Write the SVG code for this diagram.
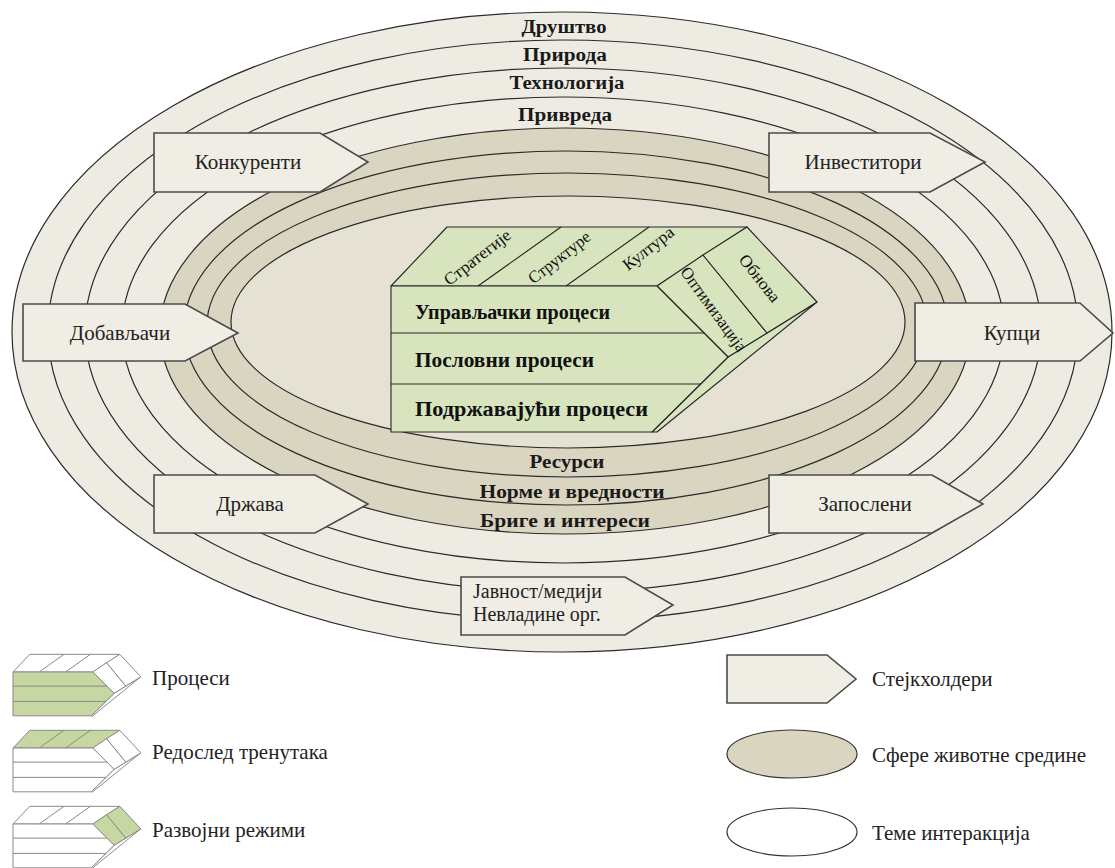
<svg xmlns="http://www.w3.org/2000/svg" xmlns:xlink="http://www.w3.org/1999/xlink" width="1115" height="868" viewBox="0 0 1115 868">
  <style>
    .ring { fill: #eeece2; stroke: #2b2b2b; stroke-width: 1.2; }
    .band { fill: #dad5c0; stroke: #2b2b2b; stroke-width: 1.2; }
    .core { fill: #e5e2d3; stroke: #2b2b2b; stroke-width: 1.2; }
    .ringlbl { font-family: "Liberation Serif", "Times New Roman", serif; font-weight: bold; font-size: 18px; fill: #1a1a1a; text-anchor: middle; }
    .stake { fill: #efede4; stroke: #4a4a4a; stroke-width: 1.6; }
    .stxt { font-family: "Liberation Serif", "Times New Roman", serif; font-size: 21px; fill: #222; }
    .stxt2 { font-family: "Liberation Serif", "Times New Roman", serif; font-size: 20px; fill: #222; }
    .mid { text-anchor: middle; }
    .cube { stroke: #262626; stroke-width: 1.1; stroke-linejoin: round; }
    .cubeline { fill: none; stroke: #262626; stroke-width: 1.1; }
    .ptxt { font-family: "Liberation Serif", "Times New Roman", serif; font-weight: bold; font-size: 20.5px; fill: #111; }
    .rtxt { font-family: "Liberation Serif", "Times New Roman", serif; font-size: 17px; fill: #111; text-anchor: middle; }
    .icon { stroke: #8a8a8a; stroke-width: 1; }
    .iconline { fill: none; stroke: #8a8a8a; stroke-width: 1; }
    .ltxt { font-family: "Liberation Serif", "Times New Roman", serif; font-size: 21px; fill: #222; }
  </style>
  <defs>
    <!-- process prism, origin at the front face's top-left corner -->
    <polygon id="cb-front" points="0,0 266,0 337,71 261,146 0,146" vector-effect="non-scaling-stroke"/>
    <polygon id="cb-top" points="0,0 56,-59 356,-59 266,0" vector-effect="non-scaling-stroke"/>
    <polygon id="cb-sideA" points="266,0 312,-31 376,47 337,71" vector-effect="non-scaling-stroke"/>
    <polygon id="cb-sideB" points="312,-31 356,-59 426,16 376,47" vector-effect="non-scaling-stroke"/>
    <polygon id="cb-lower" points="337,71 426,16 266,146 261,146" vector-effect="non-scaling-stroke"/>
    <path id="cb-lines" d="M0,47 H313 M0,98 H310 M87,0 L170,-59 M175,0 L258,-59" vector-effect="non-scaling-stroke"/>
  </defs>

  <!-- environment spheres and interaction themes -->
  <g id="spheres">
    <ellipse class="ring" cx="562" cy="332" rx="550" ry="320"/>
    <ellipse class="ring" cx="563" cy="330.5" rx="515" ry="290.5"/>
    <ellipse class="ring" cx="563" cy="330" rx="478" ry="262"/>
    <ellipse class="ring" cx="563" cy="330" rx="441" ry="233"/>
    <ellipse class="band" cx="565" cy="331" rx="405" ry="203"/>
    <ellipse class="band" cx="566" cy="328" rx="382" ry="177"/>
    <ellipse class="band" cx="567" cy="325" rx="360" ry="152"/>
    <ellipse class="core" cx="568" cy="322" rx="337" ry="126"/>
  </g>

  <g id="sphere-labels">
    <text class="ringlbl" x="564" y="33" textLength="85" lengthAdjust="spacingAndGlyphs">Друштво</text>
    <text class="ringlbl" x="565" y="61" textLength="84" lengthAdjust="spacingAndGlyphs">Природа</text>
    <text class="ringlbl" x="567" y="89" textLength="115" lengthAdjust="spacingAndGlyphs">Технологија</text>
    <text class="ringlbl" x="565" y="121" textLength="94" lengthAdjust="spacingAndGlyphs">Привреда</text>
    <text class="ringlbl" x="567" y="468" textLength="75" lengthAdjust="spacingAndGlyphs">Ресурси</text>
    <text class="ringlbl" x="572" y="498" textLength="185" lengthAdjust="spacingAndGlyphs">Норме и вредности</text>
    <text class="ringlbl" x="565" y="527" textLength="170" lengthAdjust="spacingAndGlyphs">Бриге и интереси</text>
  </g>

  <!-- central process model -->
  <g id="process-model" transform="translate(391,286)">
    <use href="#cb-lower" class="cube" fill="#d7e4bd"/>
    <use href="#cb-top" class="cube" fill="#d7e4bd"/>
    <use href="#cb-sideA" class="cube" fill="#d7e4bd"/>
    <use href="#cb-sideB" class="cube" fill="#d7e4bd"/>
    <use href="#cb-front" class="cube" fill="#d7e4bd"/>
    <use href="#cb-lines" class="cubeline"/>
    <text class="ptxt" x="24" y="33" textLength="195" lengthAdjust="spacingAndGlyphs">Управљачки процеси</text>
    <text class="ptxt" x="24" y="81" textLength="179" lengthAdjust="spacingAndGlyphs">Пословни процеси</text>
    <text class="ptxt" x="24" y="130" textLength="233" lengthAdjust="spacingAndGlyphs">Подржавајући процеси</text>
    <text class="rtxt" transform="translate(86,-29) rotate(-38)" y="6" textLength="80" lengthAdjust="spacingAndGlyphs">Стратегије</text>
    <text class="rtxt" transform="translate(168,-29) rotate(-38)" y="6" textLength="74" lengthAdjust="spacingAndGlyphs">Структуре</text>
    <text class="rtxt" transform="translate(257,-38) rotate(-38)" y="6" textLength="60" lengthAdjust="spacingAndGlyphs">Култура</text>
    <text class="rtxt" transform="translate(323,23) rotate(54)" y="6" textLength="100" lengthAdjust="spacingAndGlyphs">Оптимизација</text>
    <text class="rtxt" transform="translate(369,-8) rotate(52)" y="6" textLength="56" lengthAdjust="spacingAndGlyphs">Обнова</text>
  </g>

  <!-- stakeholders -->
  <g id="konkurenti">
    <polygon class="stake" points="154,133 320,133 368,162 320,192 154,192"/>
    <text class="stxt mid" x="248" y="169">Конкуренти</text>
  </g>
  <g id="investitori">
    <polygon class="stake" points="769,133 930,133 985,162 930,192 769,192"/>
    <text class="stxt mid" x="863" y="169">Инвеститори</text>
  </g>
  <g id="dobavljaci">
    <polygon class="stake" points="23,304 185,304 238,333 185,361 23,361"/>
    <text class="stxt mid" x="120" y="340">Добављачи</text>
  </g>
  <g id="kupci">
    <polygon class="stake" points="915,303 1080,303 1113,333 1080,361 915,361"/>
    <text class="stxt mid" x="1012" y="340">Купци</text>
  </g>
  <g id="drzava">
    <polygon class="stake" points="154,475 315,475 368,504 315,533 154,533"/>
    <text class="stxt mid" x="250" y="511">Држава</text>
  </g>
  <g id="zaposleni">
    <polygon class="stake" points="769,475 932,475 983,504 932,533 769,533"/>
    <text class="stxt mid" x="865" y="511">Запослени</text>
  </g>
  <g id="javnost">
    <polygon class="stake" points="461,577 625,577 673,605 625,635 461,635"/>
    <text class="stxt2" x="473" y="598">Јавност/медији</text>
    <text class="stxt2" x="473" y="621">Невладине орг.</text>
  </g>

  <!-- legend -->
  <g id="legend-procesi">
    <g transform="translate(13,672) scale(0.3)">
      <use href="#cb-lower" class="icon" fill="#ffffff"/>
      <use href="#cb-top" class="icon" fill="#ffffff"/>
      <use href="#cb-sideA" class="icon" fill="#ffffff"/>
      <use href="#cb-sideB" class="icon" fill="#ffffff"/>
      <use href="#cb-front" class="icon" fill="#c6d7a1"/>
      <use href="#cb-lines" class="iconline"/>
    </g>
    <text class="ltxt" x="152" y="685">Процеси</text>
  </g>
  <g id="legend-redosled">
    <g transform="translate(13,748) scale(0.3)">
      <use href="#cb-lower" class="icon" fill="#ffffff"/>
      <use href="#cb-top" class="icon" fill="#c6d7a1"/>
      <use href="#cb-sideA" class="icon" fill="#ffffff"/>
      <use href="#cb-sideB" class="icon" fill="#ffffff"/>
      <use href="#cb-front" class="icon" fill="#ffffff"/>
      <use href="#cb-lines" class="iconline"/>
    </g>
    <text class="ltxt" x="152" y="759">Редослед тренутака</text>
  </g>
  <g id="legend-razvojni">
    <g transform="translate(13,824) scale(0.3)">
      <use href="#cb-lower" class="icon" fill="#ffffff"/>
      <use href="#cb-top" class="icon" fill="#ffffff"/>
      <use href="#cb-sideA" class="icon" fill="#c6d7a1"/>
      <use href="#cb-sideB" class="icon" fill="#c6d7a1"/>
      <use href="#cb-front" class="icon" fill="#ffffff"/>
      <use href="#cb-lines" class="iconline"/>
    </g>
    <text class="ltxt" x="152" y="837">Развојни режими</text>
  </g>
  <g id="legend-stejkholderi">
    <polygon class="stake" points="727,655 827,655 856,679 827,703 727,703"/>
    <text class="ltxt" x="872" y="686">Стејкхолдери</text>
  </g>
  <g id="legend-sfere">
    <ellipse cx="792" cy="754" rx="65" ry="24" fill="#dad5c0" stroke="#333" stroke-width="1.2"/>
    <text class="ltxt" x="872" y="762">Сфере животне средине</text>
  </g>
  <g id="legend-teme">
    <ellipse cx="792" cy="832" rx="65" ry="24" fill="#ffffff" stroke="#333" stroke-width="1.2"/>
    <text class="ltxt" x="872" y="840">Теме интеракција</text>
  </g>
</svg>
